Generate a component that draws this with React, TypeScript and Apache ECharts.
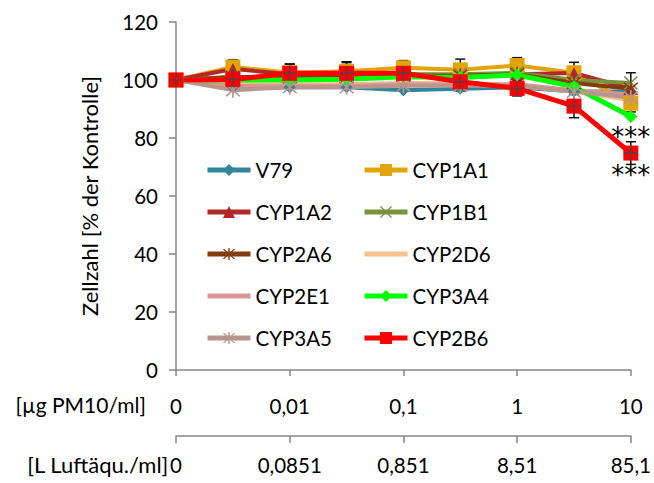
import React, { useEffect, useRef } from "react";
import * as echarts from "echarts";

// 9 concentration steps on the x axis; ticks/labels on every second step
const xSteps = ["s0", "s1", "s2", "s3", "s4", "s5", "s6", "s7", "s8"];
const doseTicks = ["0", "0,01", "0,1", "1", "10"];
const airTicks = ["0", "0,0851", "0,851", "8,51", "85,1"];
const yTicks = [0, 20, 40, 60, 80, 100, 120];

const V79 = [100, 97.5, 97.5, 97.5, 96.5, 97, 97.5, 96, 96];
const CYP1A1 = [100, 104.5, 102.5, 103, 104.2, 103.5, 105, 102.5, 92];
const CYP1A2 = [100, 103.8, 102, 102, 102, 101.5, 102, 102.4, 97];
const CYP1B1 = [100, 101, 101, 101.5, 102, 102, 102.5, 100, 99];
const CYP2A6 = [100, 101, 101, 101, 101.5, 101.5, 102, 99, 97];
const CYP2D6 = [100, 98.5, 98.5, 98.5, 99, 99, 98, 96, 93];
const CYP2E1 = [100, 98, 98, 98, 98.5, 98.5, 98.5, 96.5, 95];
const CYP3A4 = [100, 100, 100, 100.3, 101.1, 100.9, 101.7, 97.7, 87.4];
const CYP3A5 = [100, 96.5, 97.5, 97.5, 98, 98, 98, 96, 94];
const CYP2B6 = [100, 100.2, 102.3, 102.3, 102.3, 99.4, 97.1, 91, 74.8];

const errCYP1A1 = [0, 2.5, 3, 3, 2.5, 3.7, 2.7, 3.6, 3];
const errCYP1B1 = [0, 0, 0, 0, 0, 0, 0, 0, 3.5];
const errCYP2B6 = [0, 3.5, 3.2, 4, 4, 3.2, 2.6, 4, 3.9];

const sigCYP3A4 = ["", "", "", "", "", "", "", "", "***"];
const sigCYP2B6 = ["", "", "", "", "", "", "", "", "***"];

const FONT = "Lato";
const FS = 20.5;

const asteriskPath =
  "path://M-1,-10L1,-10L1,10L-1,10Z M-8.7,-7.3L-7.3,-8.7L8.7,7.3L7.3,8.7Z M-8.7,7.3L7.3,-8.7L8.7,-7.3L-7.3,8.7Z";
const crossPath =
  "path://M-8.7,-7.3L-7.3,-8.7L8.7,7.3L7.3,8.7Z M-8.7,7.3L7.3,-8.7L8.7,-7.3L-7.3,8.7Z";
const plusPath =
  "path://M-0.8,-7L0.8,-7L0.8,-0.8L7,-0.8L7,0.8L0.8,0.8L0.8,7L-0.8,7L-0.8,0.8L-7,0.8L-7,-0.8L-0.8,-0.8Z";

function withLabels(values: number[], labels: string[]) {
  return values.map((v, i) =>
    labels[i]
      ? {
          value: v,
          label: {
            show: true,
            formatter: labels[i],
            position: "bottom",
            distance: 1,
            fontSize: 26,
            color: "#000",
            fontFamily: "DejaVu Sans",
          },
        }
      : v
  );
}

function errData(values: number[], errs: number[]) {
  return values
    .map((v, i) => [i, v - errs[i], v + errs[i], errs[i]])
    .filter((d) => d[3] > 0);
}

export default function App() {
  const ref = useRef<HTMLDivElement>(null);
  useEffect(() => {
    document.body.style.margin = "0";
    const chart = echarts.init(ref.current!, null, { renderer: "svg" });

    const line = (
      name: string,
      data: any[],
      color: string,
      symbol: string,
      symbolSize: number,
      width = 4
    ) => ({
      name,
      type: "line",
      data,
      symbol: symbol === "none" ? "circle" : symbol,
      symbolSize: symbol === "none" ? 1 : symbolSize,
      showSymbol: symbol !== "none",
      z: 3,
      lineStyle: { color, width },
      itemStyle:
        symbol === "none"
          ? { color: "rgba(0,0,0,0)", borderWidth: 0 }
          : { color },
      emphasis: { disabled: true },
    });

    const errSeries = (values: number[], errs: number[]) => ({
      type: "custom",
      data: errData(values, errs),
      z: 2,
      renderItem: (params: any, api: any) => {
        const idx = api.value(0);
        const lo = api.coord([idx, api.value(1)]);
        const hi = api.coord([idx, api.value(2)]);
        const w = 5;
        const style = { stroke: "#111", lineWidth: 1.5 };
        return {
          type: "group",
          children: [
            { type: "line", shape: { x1: lo[0], y1: lo[1], x2: hi[0], y2: hi[1] }, style },
            { type: "line", shape: { x1: hi[0] - w, y1: hi[1], x2: hi[0] + w, y2: hi[1] }, style },
            { type: "line", shape: { x1: lo[0] - w, y1: lo[1], x2: lo[0] + w, y2: lo[1] }, style },
          ],
        };
      },
    });

    const legendCommon = {
      orient: "vertical",
      itemWidth: 43,
      itemHeight: 15,
      itemGap: 18,
      selectedMode: false,
      lineStyle: { width: 5 },
      textStyle: { fontFamily: FONT, fontSize: FS, color: "#000", lineHeight: 24 },
    };

    const axisLineStyle = { color: "#868686", width: 1.5 };

    chart.setOption({
      animation: false,
      backgroundColor: "#fff",
      textStyle: { fontFamily: FONT },
      grid: { left: 176, right: 22, top: 22, bottom: 113 },
      legend: [
        {
          ...legendCommon,
          left: 200,
          top: 153,
          data: ["V79", "CYP1A2", "CYP2A6", "CYP2E1", "CYP3A5"],
        },
        {
          ...legendCommon,
          left: 357,
          top: 153,
          data: ["CYP1A1", "CYP1B1", "CYP2D6", "CYP3A4", "CYP2B6"],
        },
      ],
      xAxis: [
        {
          type: "category",
          data: xSteps,
          boundaryGap: false,
          axisLine: { lineStyle: axisLineStyle },
          axisTick: { interval: 1, length: 6, lineStyle: axisLineStyle },
          axisLabel: {
            interval: 0,
            margin: 25,
            fontSize: FS,
            color: "#000",
            fontFamily: FONT,
            formatter: (_v: string, i: number) => (i % 2 === 0 ? doseTicks[i / 2] : ""),
          },
        },
        {
          type: "category",
          data: xSteps,
          position: "bottom",
          offset: 66,
          boundaryGap: false,
          axisLine: { show: true, onZero: false, lineStyle: axisLineStyle },
          axisTick: { show: true, interval: 1, length: 7, lineStyle: axisLineStyle },
          axisLabel: {
            interval: 0,
            margin: 18,
            fontSize: FS,
            color: "#000",
            fontFamily: FONT,
            formatter: (_v: string, i: number) => (i % 2 === 0 ? airTicks[i / 2] : ""),
          },
        },
      ],
      yAxis: {
        type: "value",
        min: yTicks[0],
        max: yTicks[yTicks.length - 1],
        interval: 20,
        name: "Zellzahl [% der Kontrolle]",
        nameLocation: "middle",
        nameGap: 76,
        nameTextStyle: { fontSize: 22, color: "#000", fontFamily: FONT },
        axisLine: { show: true, lineStyle: axisLineStyle },
        axisTick: { show: true, length: 7, lineStyle: axisLineStyle },
        splitLine: { show: false },
        axisLabel: { fontSize: FS, color: "#000", margin: 18, fontFamily: FONT },
      },
      graphic: [
        {
          type: "text",
          right: 654 - 146,
          top: 394,
          style: { text: "[µg PM10/ml]", fontSize: 21, fill: "#000", fontFamily: FONT },
        },
        {
          type: "text",
          right: 654 - 169,
          top: 453,
          style: { text: "[L Luftäqu./ml]", fontSize: 22, fill: "#000", fontFamily: FONT },
        },
      ],
      series: [
        line("V79", V79, "#31849B", "diamond", 12),
        line("CYP1A1", CYP1A1, "#E3A40B", "rect", 15),
        line("CYP1A2", CYP1A2, "#B02828", "triangle", 12),
        line("CYP1B1", CYP1B1, "#77933C", crossPath, 14),
        line("CYP2A6", CYP2A6, "#843C0C", asteriskPath, 15),
        line("CYP2D6", CYP2D6, "#FAC090", "none", 0),
        line("CYP2E1", CYP2E1, "#D99694", "none", 0),
        line("CYP3A4", withLabels(CYP3A4, sigCYP3A4), "#00FF00", "diamond", 13, 5),
        line("CYP3A5", CYP3A5, "#B9968C", asteriskPath, 15),
        line("CYP2B6", withLabels(CYP2B6, sigCYP2B6), "#FF0000", "rect", 15, 5),
        {
          type: "scatter",
          data: CYP2B6,
          symbol: plusPath,
          symbolSize: 14,
          itemStyle: { color: "#3A4A55" },
          z: 4,
          emphasis: { disabled: true },
        },
        errSeries(CYP1A1, errCYP1A1),
        errSeries(CYP1B1, errCYP1B1),
        errSeries(CYP2B6, errCYP2B6),
      ],
    });
    return () => chart.dispose();
  }, []);
  return <div ref={ref} style={{ width: 654, height: 483 }} />;
}
